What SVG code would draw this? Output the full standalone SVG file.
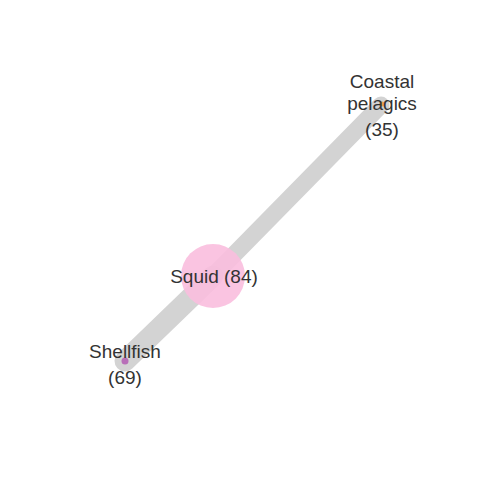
<svg xmlns="http://www.w3.org/2000/svg" width="480" height="480" viewBox="0 0 480 480">
<style>
.edge{stroke:#c8c8c8;stroke-opacity:0.8;stroke-linecap:round;fill:none}
.lbl{font-family:"Liberation Sans",Arial,sans-serif;font-size:19px;fill:#333;text-anchor:middle}
</style>
<rect width="480" height="480" fill="#fff"/>
<g id="connectors">
<line class="edge" x1="125" y1="361" x2="213" y2="276" stroke-width="21"/>
<line class="edge" x1="213" y1="276" x2="381" y2="105" stroke-width="17"/>
</g>
<g id="squid">
<circle cx="213" cy="276" r="32" fill="#f9bede" fill-opacity="0.9"/>
<text class="lbl" x="214" y="283">Squid (84)</text>
</g>
<g id="shellfish">
<circle cx="125" cy="361" r="3.5" fill="#b86fb8"/>
<text class="lbl" x="125" y="358">Shellfish</text>
<text class="lbl" x="125" y="384">(69)</text>
</g>
<g id="coastal">
<circle cx="382" cy="104" r="2.5" fill="#f0a050"/>
<text class="lbl" x="382" y="88">Coastal</text>
<text class="lbl" x="382" y="110">pelagics</text>
<text class="lbl" x="382" y="136">(35)</text>
</g>
</svg>
